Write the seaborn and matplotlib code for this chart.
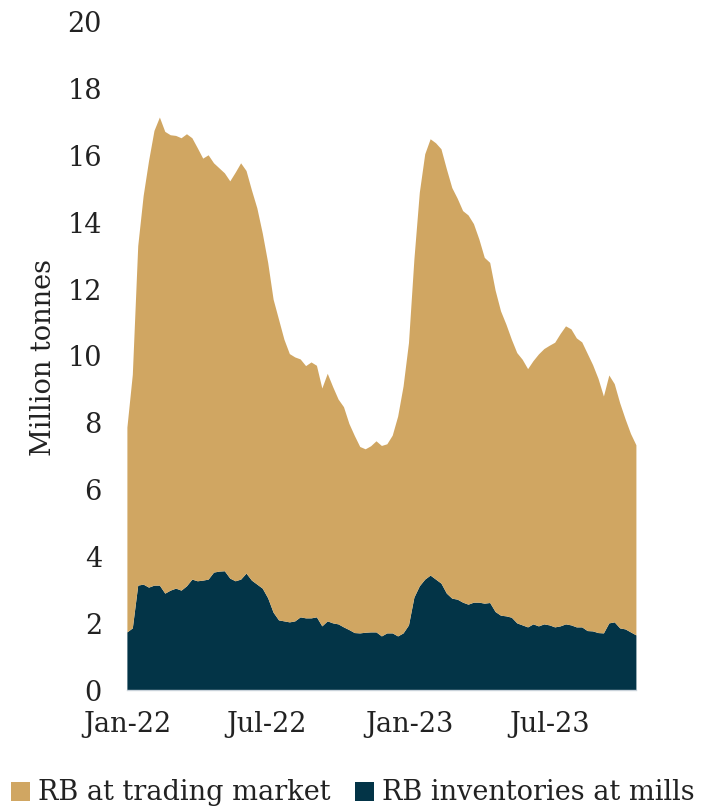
import numpy as np
import pandas as pd
import matplotlib
matplotlib.use("Agg")
import matplotlib.pyplot as plt
from matplotlib.patches import Patch
import seaborn as sns

# Weekly rebar (RB) stocks, million tonnes
start_date = "2022-01-01"
n_weeks = 95

rb_mills = [
    1.74, 1.86, 3.14, 3.17, 3.08, 3.14, 3.14, 2.90, 2.99, 3.05,
    2.99, 3.12, 3.32, 3.27, 3.29, 3.32, 3.53, 3.56, 3.57, 3.35,
    3.27, 3.32, 3.50, 3.29, 3.17, 3.05, 2.76, 2.33, 2.10, 2.07,
    2.04, 2.07, 2.19, 2.16, 2.16, 2.19, 1.92, 2.07, 2.01, 1.98,
    1.89, 1.81, 1.72, 1.71, 1.73, 1.74, 1.74, 1.62, 1.71, 1.71,
    1.62, 1.71, 1.95, 2.78, 3.12, 3.32, 3.44, 3.32, 3.20, 2.90,
    2.75, 2.72, 2.63, 2.57, 2.63, 2.63, 2.60, 2.62, 2.35, 2.24,
    2.22, 2.18, 2.01, 1.95, 1.89, 1.98, 1.92, 1.98, 1.95, 1.89,
    1.92, 1.98, 1.95, 1.89, 1.89, 1.78, 1.77, 1.72, 1.71, 2.01,
    2.04, 1.86, 1.83, 1.74, 1.65,
]

rb_trading = [
    6.13, 7.59, 10.16, 11.63, 12.77, 13.61, 14.01, 13.82, 13.63, 13.55,
    13.54, 13.53, 13.21, 12.96, 12.63, 12.70, 12.25, 12.07, 11.91, 11.89,
    12.23, 12.46, 12.05, 11.68, 11.26, 10.63, 10.04, 9.37, 9.00, 8.43,
    8.03, 7.90, 7.72, 7.55, 7.66, 7.53, 7.12, 7.41, 7.07, 6.73,
    6.59, 6.17, 5.90, 5.58, 5.49, 5.57, 5.72, 5.70, 5.66, 5.92,
    6.58, 7.39, 8.45, 10.12, 11.78, 12.73, 13.06, 13.06, 13.00, 12.70,
    12.29, 12.00, 11.72, 11.65, 11.33, 10.87, 10.35, 10.18, 9.62, 9.11,
    8.73, 8.32, 8.09, 7.95, 7.73, 7.88, 8.14, 8.24, 8.37, 8.52,
    8.75, 8.92, 8.86, 8.65, 8.53, 8.30, 7.97, 7.61, 7.09, 7.42,
    7.13, 6.74, 6.29, 5.94, 5.69,
]

series_labels = ["RB at trading market", "RB inventories at mills"]
y_ticks = [0, 2, 4, 6, 8, 10, 12, 14, 16, 18, 20]
x_tick_dates = ["2022-01-01", "2022-07-01", "2023-01-01", "2023-07-01"]
x_tick_labels = ["Jan-22", "Jul-22", "Jan-23", "Jul-23"]

dates = pd.date_range(start_date, periods=n_weeks, freq="7D")
df = pd.DataFrame({"date": dates, "mills": rb_mills, "trading": rb_trading})

TAN = "#D0A662"
NAVY = "#033447"
TEXT = "#222222"
FS = 19.5

sns.set_theme(style="white")
plt.rcParams["font.family"] = ["DejaVu Serif"]

fig = plt.figure(figsize=(7.05, 8.08), dpi=100)
ax = fig.add_axes([0.180, 0.146, 0.722, 0.827])

ax.stackplot(df["date"], df["mills"], df["trading"],
             colors=[NAVY, TAN], linewidth=0)

ax.set_xlim(df["date"].iloc[0], df["date"].iloc[-1])
ax.set_ylim(0, 20)
ax.set_yticks(y_ticks)
ax.set_yticklabels([str(t) for t in y_ticks])
ax.set_xticks(pd.to_datetime(x_tick_dates))
ax.set_xticklabels(x_tick_labels)
ax.tick_params(axis="both", length=0, labelsize=FS, colors=TEXT)
ax.tick_params(axis="y", pad=18)
ax.tick_params(axis="x", pad=15)

fig.text(44 / 705, 1 - 358 / 808, "Million tonnes", rotation=90,
         ha="center", va="center", fontsize=FS, color=TEXT)

for side in ["top", "right", "left"]:
    ax.spines[side].set_visible(False)
ax.spines["bottom"].set_color("#c9d2da")
ax.spines["bottom"].set_linewidth(1.0)

handles = [Patch(facecolor=TAN, edgecolor="none"),
           Patch(facecolor=NAVY, edgecolor="none")]
fig.legend(handles, series_labels, loc="center",
           bbox_to_anchor=(0.5, 1 - 793 / 808), ncol=2, frameon=False,
           fontsize=FS, handlelength=0.7, handleheight=0.7,
           handletextpad=0.3, columnspacing=0.9, labelcolor=TEXT,
           borderpad=0.0)

fig.savefig("out.png", dpi=100)
